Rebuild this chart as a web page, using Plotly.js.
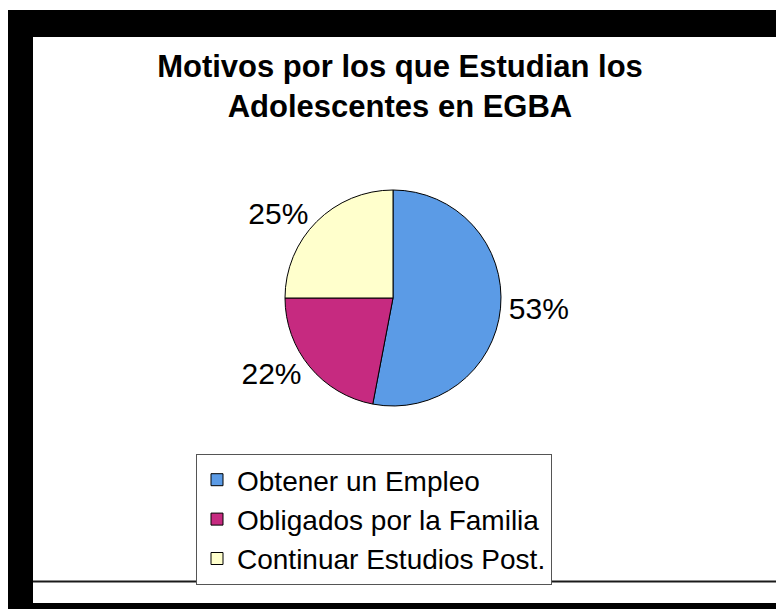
<!DOCTYPE html>
<html>
<head>
<meta charset="utf-8">
<script src="https://cdn.plot.ly/plotly-3.0.1.min.js"></script>
<style>
  html, body { margin: 0; padding: 0; background: #ffffff; }
  #chart { width: 776px; height: 609px; }
</style>
</head>
<body>
<div id="chart"></div>
<script>
// ---- Data ----
const categories = ["Obtener un Empleo", "Obligados por la Familia", "Continuar Estudios Post."];
const values = [53, 22, 25];
const sliceColors = ["#5b9be6", "#c62a80", "#ffffcc"];
const chartTitle = "Motivos por los que Estudian los<br>Adolescentes en EGBA";

// ---- Helpers (pixel -> paper, margins are zero) ----
const W = 776, H = 609;
const px = v => v / W;
const py = v => 1 - v / H;

const FONT = "Liberation Sans, Arial, Helvetica, sans-serif";

const trace = {
  type: "pie",
  labels: categories,
  values: values,
  sort: false,
  direction: "clockwise",
  rotation: 0,
  marker: { colors: sliceColors, line: { color: "#000000", width: 1 } },
  textinfo: "percent",
  texttemplate: "%{percent:.0%}",
  textposition: "outside",
  outsidetextfont: { family: FONT, size: 30, color: "#000000" },
  domain: { x: [px(285), px(501)], y: [py(406), py(190)] },
  hoverinfo: "label+percent",
  showlegend: true
};

const layout = {
  width: W,
  height: H,
  margin: { l: 0, r: 0, t: 0, b: 0 },
  paper_bgcolor: "#ffffff",
  plot_bgcolor: "#ffffff",
  font: { family: FONT, color: "#000000" },
  title: {
    text: "<b>" + chartTitle + "</b>",
    font: { family: FONT, size: 31, color: "#000000" },
    x: px(400),
    xanchor: "center",
    xref: "paper",
    y: py(77),
    yanchor: "middle",
    yref: "paper"
  },
  showlegend: true,
  legend: {
    x: px(196),
    xanchor: "left",
    y: py(454),
    yanchor: "top",
    bordercolor: "#555555",
    borderwidth: 1,
    bgcolor: "#ffffff",
    font: { family: FONT, size: 28, color: "#000000" },
    traceorder: "normal",
    entrywidth: 350,
    entrywidthmode: "pixels"
  },
  shapes: [
    // left black band
    { type: "rect", xref: "paper", yref: "paper", x0: px(8), x1: px(33), y0: 0, y1: py(10),
      fillcolor: "#000000", line: { width: 0 }, layer: "above" },
    // top black band
    { type: "rect", xref: "paper", yref: "paper", x0: px(8), x1: 1, y0: py(37), y1: py(10),
      fillcolor: "#000000", line: { width: 0 }, layer: "above" },
    // bottom black band
    { type: "rect", xref: "paper", yref: "paper", x0: px(8), x1: 1, y0: 0, y1: py(603),
      fillcolor: "#000000", line: { width: 0 }, layer: "above" },
    // thin horizontal line near bottom
    { type: "line", xref: "paper", yref: "paper", x0: px(33), x1: 1, y0: py(581.5), y1: py(581.5),
      line: { color: "#1a1a1a", width: 2 }, layer: "above" }
  ]
};

Plotly.newPlot("chart", [trace], layout, { displayModeBar: false, staticPlot: true });
</script>
</body>
</html>
